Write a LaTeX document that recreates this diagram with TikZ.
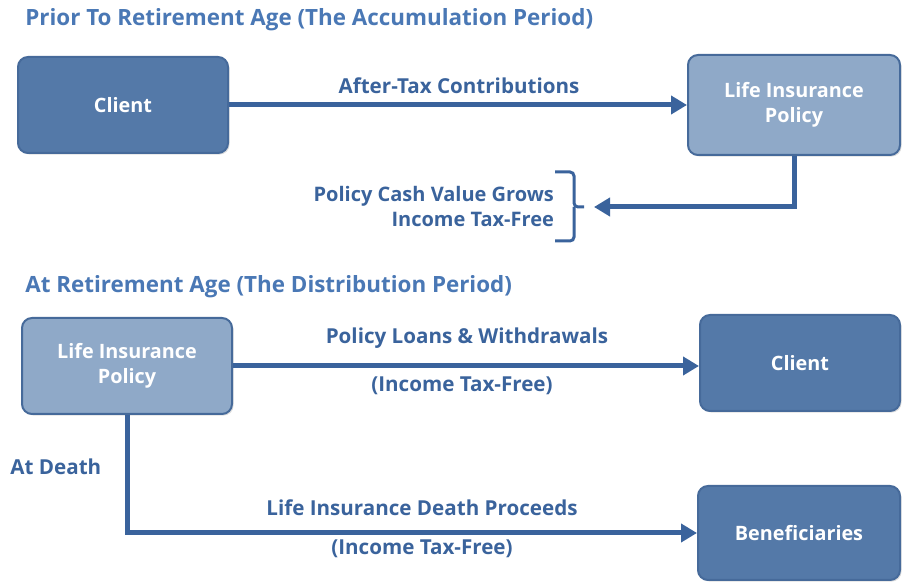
\documentclass[tikz,border=0pt]{standalone}
\usepackage{fontspec}
\setmainfont{Open Sans}
\usetikzlibrary{arrows.meta}
\usetikzlibrary{shadows}
\definecolor{darkbox}{RGB}{84,121,168}
\definecolor{lightbox}{RGB}{143,169,200}
\definecolor{boxedge}{RGB}{70,106,154}
\definecolor{flowblue}{RGB}{58,99,156}
\definecolor{headblue}{RGB}{74,120,181}
\tikzset{
	box/.style={draw=boxedge, line width=1pt, rounded corners=5pt, minimum width=105pt, minimum height=48pt, text=white, align=center, font=\bfseries\fontsize{9.9}{12.5}\selectfont, drop shadow={opacity=0.25, shadow xshift=0.8pt, shadow yshift=-0.8pt}},
	clientbox/.style={box, fill=darkbox},
	policybox/.style={box, fill=lightbox},
	flow/.style={draw=flowblue, line width=2.5pt, -{Triangle[length=8pt,width=9pt]}},
	lbl/.style={text=flowblue, font=\bfseries\fontsize{10.3}{12.5}\selectfont},
	heading/.style={text=headblue, anchor=west, inner sep=0pt, font=\bfseries\fontsize{11.2}{13}\selectfont}
}
\begin{document}
\begin{tikzpicture}[x=0.5pt, y=-0.5pt]
	\useasboundingbox (0,0) rectangle (902,582);
	% accumulation period
	\node[heading] (h1) at (25,20) {Prior To Retirement Age (The Accumulation Period)};
	\node[clientbox, minimum width=105pt, minimum height=48pt] (client1) at (123,105) {Client};
	\node[policybox, minimum width=106pt, minimum height=50pt] (policy1) at (794,105) {Life Insurance\\Policy};
	\draw[flow] (client1) -- (policy1);
	\node[lbl] (contrib) at (459,86) {After-Tax Contributions};
	\coordinate (tip) at (594,207);
	\draw[flow] (policy1.south) |- (tip);
	\draw[flowblue, line width=1.5pt, rounded corners=2pt] (555,172) -- (574,172) -- (574,207) -- (584,207);
	\draw[flowblue, line width=1.5pt, rounded corners=2pt] (555,241) -- (574,241) -- (574,207);
	\node[lbl, anchor=east, align=right, font=\bfseries\fontsize{10}{12.5}\selectfont] (grows) at (561,207) {Policy Cash Value Grows\\Income Tax-Free};
	% distribution period
	\node[heading] (h2) at (25,287) {At Retirement Age (The Distribution Period)};
	\node[policybox, minimum width=105pt, minimum height=48pt] (policy2) at (127,366) {Life Insurance\\Policy};
	\node[clientbox, minimum width=100pt, minimum height=48pt] (client2) at (800,363) {Client};
	\node[clientbox, minimum width=101pt, minimum height=47pt] (benef) at (799,533) {Beneficiaries};
	\draw[flow] (policy2.east) -- (policy2.east -| client2.west);
	\node[lbl] (loans) at (467,338) {Policy Loans \& Withdrawals};
	\node[lbl] (free1) at (462,386) {(Income Tax-Free)};
	\draw[flow] (policy2.south) |- (benef.west);
	\node[lbl] (proceeds) at (422,508) {Life Insurance Death Proceeds};
	\node[lbl] (free2) at (422,549) {(Income Tax-Free)};
	\node[lbl, anchor=west, inner sep=0pt] (death) at (10,467) {At Death};
\end{tikzpicture}
\end{document}
